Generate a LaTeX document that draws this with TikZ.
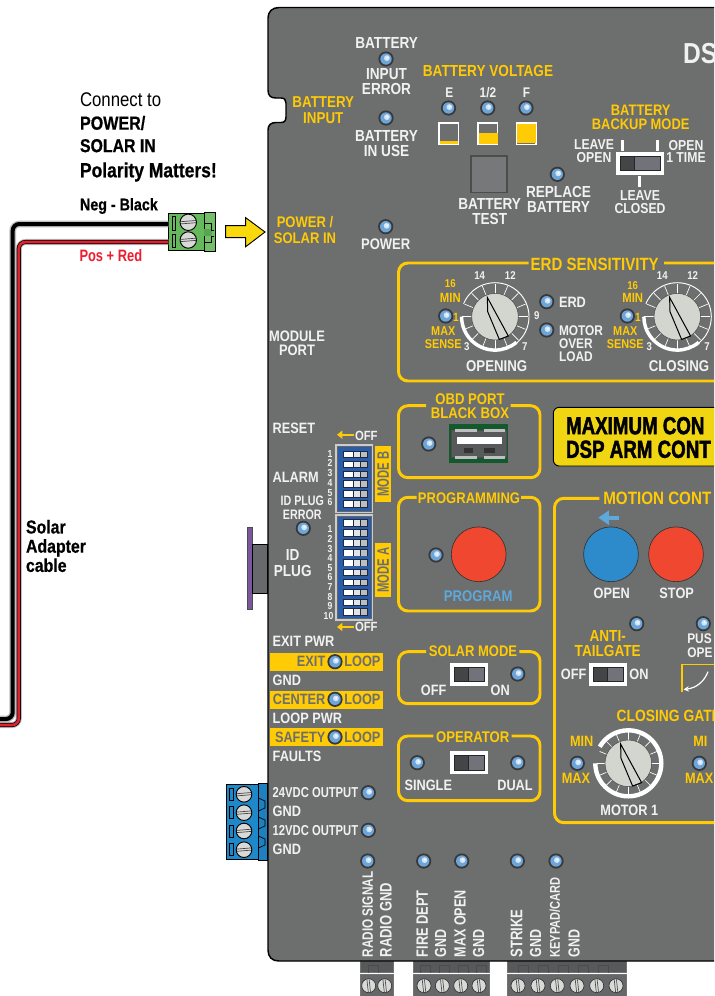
\documentclass[tikz,border=0pt]{standalone}
\usepackage{fontspec}
\usetikzlibrary{arrows.meta}
\newfontfamily\nar[FakeStretch=0.85]{Liberation Sans}
\newfontfamily\narr[FakeStretch=0.78]{Liberation Sans}
\newfontfamily\narx[FakeStretch=0.68]{Liberation Sans}
\newfontfamily\hv[FakeStretch=0.85,BoldFeatures={FakeBold=0.6}]{Liberation Sans}
\newfontfamily\hvv[FakeStretch=0.76,BoldFeatures={FakeBold=1.8}]{Liberation Sans}
\definecolor{panel}{HTML}{6D6E6E}
\definecolor{yel}{HTML}{FFCB05}
\definecolor{wht}{HTML}{F1F1F1}
\definecolor{ledb}{HTML}{6EA5D9}
\definecolor{progblue}{HTML}{5FA8DC}
\definecolor{btnred}{HTML}{F04830}
\definecolor{btnblue}{HTML}{2E8BCB}
\definecolor{knobc}{HTML}{D3D6CE}
\definecolor{swlt}{HTML}{72737A}
\definecolor{swdk}{HTML}{444547}
\definecolor{screwc}{HTML}{D9DAD8}
\definecolor{dipbg}{HTML}{1C2A44}
\definecolor{dipmid}{HTML}{E4E4E4}
\definecolor{diprt}{HTML}{BDBDBD}
\definecolor{dipblue}{HTML}{2A5CA8}
\definecolor{btmtop}{HTML}{58595B}
\definecolor{btmlow}{HTML}{666769}
\definecolor{greenb}{HTML}{66B85C}
\definecolor{greenc}{HTML}{72BF68}
\definecolor{greend}{HTML}{55A64E}
\definecolor{bluet}{HTML}{1E88C9}
\definecolor{bluec}{HTML}{1F80BF}
\definecolor{arrowy}{HTML}{F9D90E}
\definecolor{banner}{HTML}{F0D512}
\definecolor{wirered}{HTML}{E0212E}
\definecolor{posred}{HTML}{ED1C2E}
\definecolor{purp}{HTML}{7B57A0}
\definecolor{plug}{HTML}{68696D}
\definecolor{testb}{HTML}{76787A}
\definecolor{usbg}{HTML}{14592E}
\definecolor{usbs}{HTML}{58595B}
\tikzset{
  s/.style={font=\nar\bfseries\fontsize{#1}{#1}\selectfont},
  sn/.style={font=\narr\bfseries\fontsize{#1}{#1}\selectfont},
  sx/.style={font=\narx\bfseries\fontsize{#1}{#1}\selectfont},
  sh/.style={font=\hv\bfseries\fontsize{#1}{#1}\selectfont},
  lab/.style={inner sep=0pt,outer sep=0pt,align=center,text=wht,s=11.25},
  yl/.style={text=yel},
  bk/.style={text=black},
  gy/.style={text=panel},
  L/.style={anchor=west,align=left},
  V/.style={rotate=90,anchor=west,align=left},
  frameline/.style={draw=yel,line width=2.2pt,rounded corners=7pt},
}
\newcount\tcnt
\newcommand\T[4][]{\global\advance\tcnt by 1 \node[lab,#1] (t\the\tcnt) at (#2,#3) {#4};}
\newcommand\led[2]{%
  \fill[black!78] (#1,#2) circle (7.6);
  \fill[ledb] (#1,#2) circle (5.7);
  \fill[white!70!ledb] (#1+0.9,#2-0.9) circle (2.9);
  \fill[white!88!ledb] (#1+1.3,#2-1.3) circle (1.4);
}
\newcommand\frm[6]{\draw[frameline] (#6,#2) -- (#3,#2) -- (#3,#4) -- (#1,#4) -- (#1,#2) -- (#5,#2);}
\newcommand\swt[5]{% x0 y0 x1 y1 divider
  \fill[white] (#1,#2) rectangle (#3,#4);
  \fill[swlt] (#1+4,#2+4) rectangle (#3-4,#4-4);
  \fill[swdk] (#1+4,#2+4) rectangle (#5,#4-4);
  \draw[black!85,line width=0.5pt] (#1+4,#2+4) rectangle (#3-4,#4-4);
  \draw[black!85,line width=0.5pt] (#5,#2+4) -- (#5,#4-4);
}
\newcommand\pointer{%
  \draw[black,line width=0.75pt] (-7.7,19.3) -- (-7.3,5) -- (4.3,-22.7) -- (13.3,-19.3) -- cycle;
}
\newcommand\knobA[2]{\begin{scope}[shift={(#1,#2)},y=0.75pt]
  \foreach \a in {0,22.5,...,337.5} \draw[white,line width=0.5pt] (\a:23) -- (\a:33);
  \draw[white,line width=0.7pt] (-50:34) arc[start angle=-50,end angle=157.5,radius=34];
  \draw[white,line width=2.6pt] (180:33.4) arc[start angle=180,end angle=310,radius=33.4];
  \fill[knobc] (0,0) circle (23.3);
  \draw[black!70,line width=0.4pt] (0,0) circle (23.3);
  \pointer
\end{scope}}
\newcommand\knobB[2]{\begin{scope}[shift={(#1,#2)},y=0.75pt]
  \foreach \a in {0,22.5,...,337.5} \draw[white,line width=0.5pt] (\a:23) -- (\a:31);
  \draw[white,line width=3.3pt] (180:33) arc[start angle=180,end angle=510,radius=33];
  \fill[knobc] (0,0) circle (23.3);
  \draw[black!70,line width=0.4pt] (0,0) circle (23.3);
  \pointer
\end{scope}}
\newcommand\screw[3]{%
  \fill[screwc,draw=black,line width=0.7pt] (#1,#2) circle (#3);
  \draw[black!75,line width=0.5pt] (#1-#3+0.6,#2-0.6) -- (#1+#3-0.6,#2-1.8);
  \draw[black!75,line width=0.5pt] (#1-#3+0.6,#2+1.6) -- (#1+#3-0.6,#2+0.4);
}
\newcommand\vscrew[2]{%
  \fill[screwc,draw=black!80,line width=0.5pt] (#1,#2) circle (7);
  \draw[black!70,line width=0.5pt] (#1-1.8,#2-6.4) -- (#1-0.4,#2+6.4);
  \draw[black!70,line width=0.5pt] (#1+0.4,#2-6.4) -- (#1+1.8,#2+6.4);
}
\newcommand\dipr[1]{%
  \fill[dipbg] (343.2,#1-3.6) rectangle (368,#1+3.6);
  \fill[white] (344,#1-2.8) rectangle (352.7,#1+2.8);
  \fill[dipmid] (353.7,#1-2.8) rectangle (360,#1+2.8);
  \fill[diprt] (361,#1-2.8) rectangle (367.4,#1+2.8);
}
\newcommand\btm[2]{%
  \fill[btmtop,draw=black!55,line width=0.4pt] (#1,961) rectangle (#2,972.5);
  \fill[btmlow,draw=black!55,line width=0.4pt] (#1,974.5) rectangle (#2,997);
}
\newcommand\notch[1]{\draw[black!70,line width=0.5pt] (#1-8,972.5) -- (#1-8,965) -- (#1+2,965) -- (#1+2,972.5);}
\begin{document}
\begin{tikzpicture}[x=0.75pt,y=-0.75pt]
\useasboundingbox (0,0) rectangle (714,996);
\fill[white] (0,0) rectangle (714,996);
\clip (0,0) rectangle (714,996);

% ---------- bottom connectors
\btm{360}{393.3}
\notch{376}
\foreach \x in {368.7,384.7} {\vscrew{\x}{985.7}}
\btm{413.3}{489.3}
\foreach \x in {428,447,466,484} {\notch{\x}}
\foreach \x in {424,442.3,460.7,479} {\vscrew{\x}{985.7}}
\btm{507.7}{626}
\foreach \x in {526,546,566,586,606} {\notch{\x}}
\foreach \x in {518,538,557.3,577,596.7,616} {\vscrew{\x}{985.7}}

% ---------- panel
\fill[panel] (760,7.5) -- (279,7.5) .. controls (272,7.5) and (268,12) .. (268,18)
  -- (268,90) .. controls (268,96) and (271,98) .. (276,98) -- (281,98)
  .. controls (284.5,98) and (286,100) .. (286,103) -- (286,117)
  .. controls (286,120.5) and (284.5,122.5) .. (281,122.5) -- (276,122.5)
  .. controls (271,122.5) and (268,125) .. (268,130)
  -- (268,950) .. controls (268,957) and (272,961) .. (279,961) -- (760,961) -- cycle;
\draw[black,line width=1.1pt] (760,961) -- (279,961) .. controls (272,961) and (268,957) .. (268,950)
  -- (268,130) .. controls (268,125) and (271,122.5) .. (276,122.5) -- (281,122.5)
  .. controls (284.5,122.5) and (286,120.5) .. (286,117) -- (286,103)
  .. controls (286,100) and (284.5,98) .. (281,98) -- (276,98)
  .. controls (271,98) and (268,96) .. (268,90) -- (268,18)
  .. controls (268,12) and (272,7.5) .. (279,7.5) -- (760,7.5);

% ---------- green terminal and wires
\node[draw=black,line width=0.7pt,fill=greenb,minimum width=26.7pt,minimum height=28pt,inner sep=0pt,outer sep=0pt] (greenterm) at (186.2,232) {};
\coordinate (bwstart) at (0,719);
\coordinate (bwcorner) at (12.7,719);
\coordinate (bwtop) at (12.7,224);
\coordinate (rwstart) at (0,725);
\coordinate (rwcorner) at (18.8,725);
\coordinate (rwtop) at (18.8,242);
\draw[black!25,line width=5pt,rounded corners=5pt] (bwstart) -- (bwcorner) -- (bwtop) -- (greenterm.west|-bwtop);
\draw[black!25,line width=4.6pt,rounded corners=5pt] (rwstart) -- (rwcorner) -- (rwtop) -- (greenterm.west|-rwtop);
\draw[black,line width=3pt,rounded corners=5pt] (bwstart) -- (bwcorner) -- (bwtop) -- (greenterm.west|-bwtop);
\draw[black,line width=3.1pt,rounded corners=5pt] (rwstart) -- (rwcorner) -- (rwtop) -- (greenterm.west|-rwtop);
\draw[wirered,line width=2pt,rounded corners=5pt] (rwstart) -- (rwcorner) -- (rwtop) -- (greenterm.west|-rwtop);
\node[draw=black,line width=0.7pt,fill=greenc,minimum width=8.2pt,minimum height=29pt,inner sep=0pt,outer sep=0pt] (greencap) at (209.5,232) {};
\fill[greend] (204,229) rectangle (212,236);
\draw[black,line width=0.6pt] (204,223) -- (211.5,223) -- (211.5,230) -- (214,230);
\draw[black,line width=0.6pt] (214,236) -- (211.5,236) -- (211.5,242) -- (204,242);
\draw[black,line width=0.6pt] (172.3,216) rectangle (175.7,230);
\draw[black,line width=0.6pt] (172.3,234.3) rectangle (175.7,247.7);
\screw{188.3}{222.3}{8.2}
\screw{188.3}{240}{8.2}

% yellow arrow
\draw[fill=arrowy,draw=black,line width=0.7pt] (225.7,225.7) -- (245.7,225.7) -- (245.7,217.7) -- (265,232) -- (245.7,246.7) -- (245.7,237.7) -- (225.7,237.7) -- cycle;

% ---------- outside text
\T[L,bk,font=\nar\fontsize{14.8}{14.8}\selectfont]{80}{99.7}{Connect to}
\T[L,bk,sh=14.2]{80}{123}{POWER/}
\T[L,bk,sh=14]{80}{145.7}{SOLAR IN}
\T[L,bk,sh=15.4]{80}{172}{Polarity Matters!}
\T[L,bk,font=\hv\bfseries\fontsize{12.6}{12.6}\selectfont]{80}{206}{Neg - Black}
\T[L,text=posred,font=\narr\bfseries\fontsize{12.4}{12.4}\selectfont]{79.5}{256}{Pos + Red}
\T[L,bk,sh=14,align=left]{26}{546}{Solar\\[0.4pt]Adapter\\[0.4pt]cable}

% ---------- blue terminal
\fill[bluet,draw=black,line width=0.6pt] (226,784) rectangle (258.3,859);
\fill[bluec,draw=black,line width=0.6pt] (258.3,783) rectangle (267.7,860);
\foreach \y in {794.3,812.7,831,849.7} {
  \draw[black,line width=0.5pt] (229.3,\y-6) rectangle (233.7,\y+6);
  \screw{244}{\y}{7.8}
}
\draw[black,line width=0.5pt] (258.3,798) -- (265,801) -- (265,808) -- (258.3,811);
\draw[black,line width=0.5pt] (258.3,817) -- (265,820) -- (265,826) -- (258.3,829);
\draw[black,line width=0.5pt] (258.3,836) -- (265,839) -- (265,845) -- (258.3,848);

% ---------- ID plug
\fill[purp,draw=black!70,line width=0.5pt] (247.3,527.3) rectangle (252.7,609.3);
\fill[plug,draw=black,line width=0.6pt] (252.7,544.3) rectangle (267.7,593.3);

% ---------- top area
\T[s=12]{386.7}{43.3}{BATTERY}
\led{386}{59}
\T[s=12]{386.5}{82}{INPUT\\[-0.8pt]ERROR}
\led{386}{118}
\T[s=12]{386.5}{144}{BATTERY\\[-0.8pt]IN USE}
\T[yl,s=12]{488}{71.3}{BATTERY VOLTAGE}
\T[s=10.5]{449.3}{92.3}{E}
\T[s=10.5]{488}{92.3}{1/2}
\T[s=10.5]{526.5}{92.3}{F}
\led{448.5}{108}\led{487.7}{108}\led{526}{108}
\foreach \a in {438.3,477.3,515.7} {\draw[white,line width=1.1pt,fill=panel] (\a+0.8,122.8) rectangle (\a+20.2,144.7);}
\fill[yel] (440,141) rectangle (458,143.6);
\fill[yel] (479,133.3) rectangle (497.5,144);
\fill[yel] (517.3,124.4) rectangle (535.8,143);
\fill[testb,draw=black!70,line width=1.2pt] (470.8,155.8) rectangle (507,192.6);
\T[s=12]{489.7}{211.5}{BATTERY\\[-0.8pt]TEST}
\led{557.3}{174.3}
\T[s=12]{558.5}{199.2}{REPLACE\\[-0.8pt]BATTERY}
\T[yl,s=11.4]{640.7}{117.5}{BATTERY\\[-1.1pt]BACKUP MODE}
\T[s=10.8]{594}{151.4}{LEAVE\\[-1.3pt]OPEN}
\T[s=10.8]{686}{151.4}{OPEN\\[-1.3pt]1 TIME}
\T[s=10.8]{640}{202.2}{LEAVE\\[-1.3pt]CLOSED}
\foreach \x/\a/\b in {622.3/140/150.7,657.3/140/150.7,639.3/176/186.7} {\fill[white] (\x-1.2,\a) rectangle (\x+1.2,\b);}
\swt{616}{152}{664}{174.7}{634.3}
\T[L,s=21.7]{683}{54}{DS}
\T[yl,s=11.8,align=center]{323.3}{110}{BATTERY\\[0.5pt]INPUT}
\T[yl,s=11.5]{305}{221.7}{POWER /}
\T[yl,s=11.5]{305}{238.3}{SOLAR IN}
\led{385.7}{226.7}
\T[s=11.5]{385.7}{244}{POWER}
\T[s=11.4]{297}{343}{MODULE\\[-0.8pt]PORT}

% ---------- ERD
\frm{398.5}{263}{760}{381}{528.7}{664}
\T[yl,s=13.3]{594.7}{264}{ERD SENSITIVITY}
\knobA{495}{316.7}
\knobA{677.3}{316.7}
\T[s=8.5]{479.7}{276}{14}\T[s=8.5]{510.3}{276}{12}
\T[yl,s=8.5]{450.3}{284}{16}\T[yl,s=10]{450.3}{297.7}{MIN}
\led{445.7}{316}\T[yl,s=9]{455.9}{317}{1}
\T[yl,s=9.6]{443.3}{337.4}{MAX\\SENSE}
\T[s=8.5]{466.7}{347}{3}\T[s=8.5]{524.7}{347}{7}\T[s=8.5]{536.7}{316}{9}
\T[s=11.7]{496.7}{366.3}{OPENING}
\led{546.7}{301.7}\T[L]{559}{302.7}{ERD}
\led{546.7}{330}\T[L,s=10.5,align=left]{559}{344}{MOTOR\\[-0.75pt]OVER\\[-0.75pt]LOAD}
\T[s=8.5]{662.3}{276}{14}\T[s=8.5]{692.7}{276}{12}
\T[yl,s=8.5]{632.7}{285.7}{16}\T[yl,s=10]{632.7}{298}{MIN}
\led{627.3}{316}\T[yl,s=9]{638}{317}{1}
\T[yl,s=9.6]{625.3}{337.4}{MAX\\SENSE}
\T[s=8.5]{649.3}{347}{3}\T[s=8.5]{707}{347}{7}
\T[s=11.7]{679}{366.3}{CLOSING}

% ---------- OBD
\frm{398.5}{405.7}{540}{477.7}{426}{510.7}
\T[yl,s=11.6]{470}{406.3}{OBD PORT\\[-1.1pt]BLACK BOX}
\led{428.7}{444}
\fill[usbg] (449.3,424) rectangle (507.7,463.3);
\fill[usbs,draw=black!70,line width=0.5pt] (451.5,430) rectangle (506.5,457.3);
\fill[black!25] (455,428.5) rectangle (476.7,431.5);\fill[black!25] (484.3,428.5) rectangle (505,431.5);
\fill[black!25] (455,456) rectangle (476.7,459);\fill[black!25] (484.3,456) rectangle (505,459);
\fill[white] (456.7,436.7) rectangle (501.7,444.3);
\fill[black!80] (464,448.3) rectangle (473.3,452.7);\fill[black!80] (484.3,448.3) rectangle (495,452.7);

% ---------- banner
\draw[fill=banner,draw=black,line width=0.7pt,rounded corners=4.5pt] (553.3,407.3) rectangle (760,466);
\T[L,bk,font=\hvv\bfseries\fontsize{18.5}{18.5}\selectfont]{566}{425.7}{MAXIMUM CON}
\T[L,bk,font=\hvv\bfseries\fontsize{18.5}{18.5}\selectfont]{566}{449.3}{DSP ARM CONT}

% ---------- programming
\frm{398.5}{497.3}{540}{611}{416.7}{521}
\T[yl,s=11.5]{469}{498.3}{PROGRAMMING}
\led{436}{555}
\fill[btnred,draw=black!80,line width=0.5pt] (478.7,554.3) circle (27.4);
\T[text=progblue,s=11.6]{478.3}{596}{PROGRAM}

% ---------- solar mode
\frm{398.5}{651.7}{540}{703.7}{426}{519.3}
\T[yl,s=11.5]{473}{651.3}{SOLAR MODE}
\swt{450}{663}{488}{685.7}{468.7}
\led{517.7}{674}
\T{433.7}{690.7}{OFF}\T{500.3}{690.7}{ON}

% ---------- operator
\frm{398.5}{736}{540}{800.7}{433.3}{511.7}
\T[yl,s=11.6]{472.7}{736.7}{OPERATOR}
\swt{450}{751}{488}{774}{468.7}
\led{417.3}{762.7}\led{517.7}{762.7}
\T{428.3}{785.7}{SINGLE}\T{515}{785.7}{DUAL}

% ---------- motion control
\draw[frameline] (599.3,498.3) -- (554.5,498.3) -- (554.5,822.7) -- (760,822.7);
\T[L,yl,s=13.4]{603.3}{498.3}{MOTION CONT}
\draw[progblue,line width=3pt,-{Triangle[length=8pt,width=10.5pt]}] (619.3,517.7) -- (598.3,517.7);
\fill[btnblue,draw=black!80,line width=0.5pt] (611,554.3) circle (27.4);
\fill[btnred,draw=black!80,line width=0.5pt] (676,554.3) circle (27.4);
\T{611.7}{593.3}{OPEN}\T{676.7}{593.3}{STOP}
\led{636.7}{623.7}\led{703.3}{623.7}
\T[yl,s=12]{607.7}{643.8}{ANTI-\\[-1pt]TAILGATE}
\T[L,s=10.5,align=left]{687.3}{646}{PUS\\OPE}
\swt{589.3}{663}{627}{685.7}{607.7}
\T{573.7}{674}{OFF}\T{639}{674}{ON}
\draw[yel,line width=1pt] (682,692) -- (682,664.5) -- (714,664.5);
\draw[white,line width=0.9pt,-{Stealth[length=4pt,width=4pt]}] (708,671.7) .. controls (704,682) and (696,688) .. (683.5,689.5);
\T[L,yl,s=12.2]{616.7}{716}{CLOSING GATI}
\knobB{628.3}{763.3}
\T[yl]{581.7}{741.7}{MIN}
\led{577.3}{763.3}
\T[yl]{576}{778.3}{MAX}
\T{629.3}{810}{MOTOR 1}
\T[L,yl]{693.3}{741.7}{MI}
\led{699.3}{763.3}
\T[L,yl]{685}{778.3}{MAX}

% ---------- left labels and dip switches
\T[L]{272.7}{428.3}{RESET}
\T[L]{272.7}{477.7}{ALARM}
\T[L,s=10]{355}{435.7}{OFF}
\draw[yel,line width=1.4pt,-{Triangle[length=4pt,width=6pt]}] (354,434.7) -- (337,434.7);
\fill[black!20] (335,444) rectangle (372.7,512.7);
\fill[dipblue,draw=black!60,line width=0.4pt] (337,446) rectangle (371.7,511);
\foreach \y in {454.3,464.3,474.3,484,494,504} {\dipr{\y}}
\fill[black!20] (335,514) rectangle (372.7,620.7);
\fill[dipblue,draw=black!60,line width=0.4pt] (337,516) rectangle (371.7,618.7);
\foreach \y in {523,533,543,552.7,562.7,572.3,582.3,592.3,602.3,612} {\dipr{\y}}
\foreach \n/\y in {1/454,2/463.3,3/473.3,4/482.7,5/492.7,6/501.7} {\T[s=7.6]{330}{\y}{\n}}
\foreach \n/\y in {1/529,2/538.7,3/548.7,4/558.3,5/568,6/577.3,7/587,8/596.7,9/606} {\T[s=7.6]{330}{\y}{\n}}
\T[s=7.6]{328.5}{615.7}{10}
\fill[yel] (375,446) rectangle (391,501.7);
\T[rotate=90,gy,sx=12.4]{383.2}{474}{MODE B}
\fill[yel] (375,543.3) rectangle (391,597.3);
\T[rotate=90,gy,sx=12.4]{383.2}{570.3}{MODE A}
\T[L,s=10]{355}{627.3}{OFF}
\draw[yel,line width=1.4pt,-{Triangle[length=4pt,width=6pt]}] (354,627) -- (337,627);
\T[sn=10.3]{302.3}{507.5}{ID PLUG\\ERROR}
\led{303.3}{528.3}
\T[s=12]{292.7}{563.5}{ID\\PLUG}

% ---------- loop labels
\T[L]{272.7}{641.7}{EXIT PWR}
\fill[yel] (270,653) rectangle (383.3,671);
\T[anchor=east,gy]{325.3}{661.7}{EXIT}
\led{335}{661.7}\T[L,gy]{344.3}{661.7}{LOOP}
\T[L]{272.7}{680}{GND}
\fill[yel] (270,691) rectangle (383.3,709);
\T[anchor=east,gy]{325.3}{699.3}{CENTER}
\led{335}{699.3}\T[L,gy]{344.3}{699.3}{LOOP}
\T[L]{272.7}{718.7}{LOOP PWR}
\fill[yel] (270,728.3) rectangle (383.3,746);
\T[anchor=east,gy]{325.3}{737}{SAFETY}
\led{335}{737}\T[L,gy]{344.3}{737}{LOOP}
\T[L]{272.7}{756.7}{FAULTS}
\T[L,sn=10.8]{272.7}{792.7}{24VDC OUTPUT}\led{368.3}{792.7}
\T[L]{272.7}{811.7}{GND}
\T[L,sn=10.8]{272.7}{830.7}{12VDC OUTPUT}\led{368.3}{830.3}
\T[L]{272.7}{849.3}{GND}

% ---------- bottom LEDs and vertical labels
\foreach \x in {367.7,423.7,461.7,517.3,556} {\led{\x}{861}}
\foreach \x/\t/\z in {367.7/RADIO SIGNAL/11.3,386/RADIO GND/12.5,422.3/FIRE DEPT/12.3,440.7/GND/12,460/MAX OPEN/12.1,478.7/GND/12,516.7/STRIKE/12.6,535.7/GND/12,555/{KEYPAD/CARD}/10.6,574/GND/12} {
  \T[V,sn=\z]{\x}{957.3}{\t}
}
\end{tikzpicture}
\end{document}
